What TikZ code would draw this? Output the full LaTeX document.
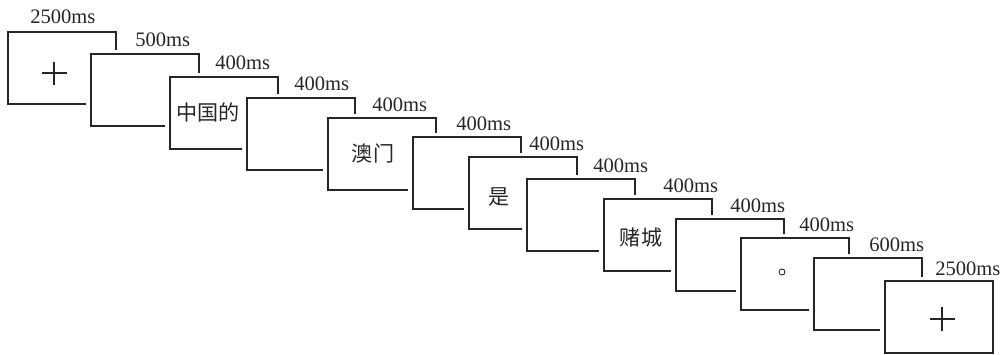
\documentclass[tikz,border=0pt]{standalone}
\usepackage{fontspec}
\setmainfont{Liberation Serif}
\newfontfamily\cjk{Noto Sans CJK SC}
\usetikzlibrary{calc}

\begin{document}
\begin{tikzpicture}[
  x=0.02cm, y=-0.02cm,
  font=\fontsize{11.7}{14}\selectfont,
  screen/.style={minimum width=2.16cm, minimum height=1.44cm, inner sep=0pt,
                 outer sep=0pt, anchor=north west},
  edge/.style={line width=1.1pt, draw=black!85},
  lbl/.style={anchor=base west, inner sep=0pt, text=black!85},
  word/.style={font=\cjk\fontsize{12}{14}\selectfont, inner sep=0pt, text=black!85},
  crossline/.style={line width=0.8pt, draw=black!85}
]
\useasboundingbox (0,0) rectangle (1005,355);

% screens, top-left corners
\node[screen] (f1) at (8,32) {};
\node[screen] (f2) at (91,54) {};
\node[screen] (f3) at (170,77) {};
\node[screen] (f4) at (247,98) {};
\node[screen] (f5) at (328,118) {};
\node[screen] (f6) at (413,137) {};
\node[screen] (f7) at (469,157) {};
\node[screen] (f8) at (527,179) {};
\node[screen] (f9) at (604,199) {};
\node[screen] (f10) at (676,219) {};
\node[screen] (f11) at (741,238) {};
\node[screen] (f12) at (814,258) {};
\node[screen] (f13) at (885,281) {};

% visible edges of each screen
\draw[edge] ($(f2.west |- f1.south)+(-5,0)$) -- (f1.south west) -- (f1.north west) -- (f1.north east) -- ($(f1.east |- f2.north)+(0,-4)$);
\draw[edge] ($(f3.west |- f2.south)+(-5,0)$) -- (f2.south west) -- (f2.north west) -- (f2.north east) -- ($(f2.east |- f3.north)+(0,-4)$);
\draw[edge] ($(f4.west |- f3.south)+(-5,0)$) -- (f3.south west) -- (f3.north west) -- (f3.north east) -- ($(f3.east |- f4.north)+(0,-4)$);
\draw[edge] ($(f5.west |- f4.south)+(-5,0)$) -- (f4.south west) -- (f4.north west) -- (f4.north east) -- ($(f4.east |- f5.north)+(0,-4)$);
\draw[edge] ($(f6.west |- f5.south)+(-5,0)$) -- (f5.south west) -- (f5.north west) -- (f5.north east) -- ($(f5.east |- f6.north)+(0,-4)$);
\draw[edge] ($(f7.west |- f6.south)+(-5,0)$) -- (f6.south west) -- (f6.north west) -- (f6.north east) -- ($(f6.east |- f7.north)+(0,-4)$);
\draw[edge] ($(f8.west |- f7.south)+(-5,0)$) -- (f7.south west) -- (f7.north west) -- (f7.north east) -- ($(f7.east |- f8.north)+(0,-4)$);
\draw[edge] ($(f9.west |- f8.south)+(-5,0)$) -- (f8.south west) -- (f8.north west) -- (f8.north east) -- ($(f8.east |- f9.north)+(0,-4)$);
\draw[edge] ($(f10.west |- f9.south)+(-5,0)$) -- (f9.south west) -- (f9.north west) -- (f9.north east) -- ($(f9.east |- f10.north)+(0,-4)$);
\draw[edge] ($(f11.west |- f10.south)+(-5,0)$) -- (f10.south west) -- (f10.north west) -- (f10.north east) -- ($(f10.east |- f11.north)+(0,-4)$);
\draw[edge] ($(f12.west |- f11.south)+(-5,0)$) -- (f11.south west) -- (f11.north west) -- (f11.north east) -- ($(f11.east |- f12.north)+(0,-4)$);
\draw[edge] ($(f13.west |- f12.south)+(-5,0)$) -- (f12.south west) -- (f12.north west) -- (f12.north east) -- ($(f12.east |- f13.north)+(0,-4)$);
\draw[edge] (f13.north west) rectangle (f13.south east);

% durations
\node[lbl] (t1) at (30,24) {2500ms};
\node[lbl] (t2) at (135,47) {500ms};
\node[lbl] (t3) at (215,70) {400ms};
\node[lbl] (t4) at (294,91) {400ms};
\node[lbl] (t5) at (372,111) {400ms};
\node[lbl] (t6) at (456,130) {400ms};
\node[lbl] (t7) at (529,150) {400ms};
\node[lbl] (t8) at (593,172) {400ms};
\node[lbl] (t9) at (663,192) {400ms};
\node[lbl] (t10) at (730,212) {400ms};
\node[lbl] (t11) at (799,231) {400ms};
\node[lbl] (t12) at (869,251) {600ms};
\node[lbl] (t13) at (935,275) {2500ms};

% screen contents
\coordinate (p1) at (54,73);
\draw[crossline] (p1) +(-12.5,0) -- +(12.5,0) (p1) +(0,-11.5) -- +(0,11.5);
\node[word] (w3) at (208,112) {中国的};
\node[word] (w5) at (373,153) {澳门};
\node[word] (w7) at (499,197) {是};
\node[word] (w9) at (641,238) {赌城};
\node[circle, draw=black!85, line width=0.5pt, inner sep=0pt, minimum size=0.12cm] (dot) at (782,272) {};
\coordinate (p13) at (942,319);
\draw[crossline] (p13) +(-12.5,0) -- +(12.5,0) (p13) +(0,-12) -- +(0,12);
\end{tikzpicture}
\end{document}
